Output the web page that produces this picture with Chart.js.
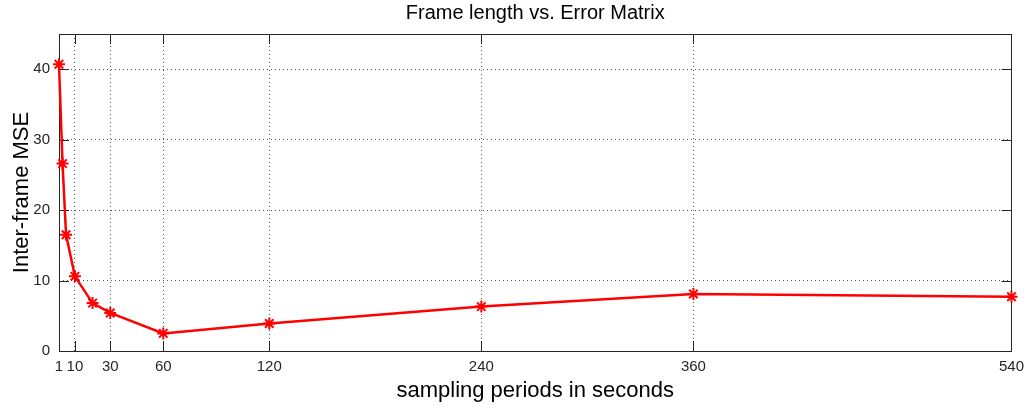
<!DOCTYPE html>
<html lang="en">
<head>
  <meta charset="UTF-8" />
  <title>Frame length vs. Error Matrix</title>
  <script src="https://cdn.jsdelivr.net/npm/chart.js"></script>
  <style>
    html, body {
      margin: 0;
      padding: 0;
      background: #fff;
    }
    canvas {
      display: block;
    }
  </style>
</head>
<body>
  <canvas id="mseChart" width="1031" height="408"></canvas>

  <script>
    // values
    const periods = [1, 3, 5, 10, 20, 30, 60, 120, 240, 360, 540];
    const mseValues = [40.7, 26.6, 16.5, 10.6, 6.8, 5.4, 2.5, 3.9, 6.3, 8.1, 7.7];
    const xTicks = [1, 10, 30, 60, 120, 240, 360, 540];
    const yTicks = [0, 10, 20, 30, 40];

    const font = "'Liberation Sans', Arial, sans-serif";

    // matlab style box with inward tick marks
    const boxPlugin = {
      id: 'matlabBox',
      beforeDatasetsDraw(chart) {
        const { ctx, chartArea: a, scales } = chart;
        const len = 10;
        ctx.save();
        ctx.strokeStyle = '#262626';
        ctx.lineWidth = 1;
        ctx.beginPath();
        xTicks.forEach(v => {
          const px = Math.round(scales.x.getPixelForValue(v)) + 0.5;
          ctx.moveTo(px, a.bottom); ctx.lineTo(px, a.bottom - len);
          ctx.moveTo(px, a.top); ctx.lineTo(px, a.top + len);
        });
        yTicks.forEach(v => {
          const py = Math.round(scales.y.getPixelForValue(v)) + 0.5;
          ctx.moveTo(a.left, py); ctx.lineTo(a.left + len, py);
          ctx.moveTo(a.right, py); ctx.lineTo(a.right - len, py);
        });
        ctx.stroke();
        ctx.strokeRect(Math.round(a.left) + 0.5, Math.round(a.top) + 0.5,
          Math.round(a.right - a.left), Math.round(a.bottom - a.top));
        ctx.restore();
      }
    };

    const ctx = document.getElementById('mseChart').getContext('2d');
    new Chart(ctx, {
      type: 'line',
      data: {
        datasets: [{
          data: periods.map((p, i) => ({ x: p, y: mseValues[i] })),
          borderColor: '#ff0000',
          backgroundColor: '#ff0000',
          borderWidth: 2.5,
          fill: false,
          tension: 0,
          pointStyle: 'star',
          pointRadius: 6,
          pointBorderWidth: 2,
          pointBorderColor: '#ff0000',
          pointHoverRadius: 6,
          clip: false
        }]
      },
      options: {
        responsive: false,
        animation: false,
        events: [],
        layout: { padding: { left: 0, right: 17, top: 0, bottom: 0 } },
        plugins: {
          legend: { display: false },
          tooltip: { enabled: false },
          title: {
            display: true,
            text: 'Frame length vs. Error Matrix',
            fullSize: false,
            color: '#000',
            font: { family: font, size: 20, weight: 'normal' },
            padding: { top: 1, bottom: 9 }
          }
        },
        scales: {
          x: {
            type: 'linear',
            min: 1,
            max: 540,
            afterBuildTicks: s => { s.ticks = xTicks.map(v => ({ value: v })); },
            afterFit: s => { s.height = 57; },
            grid: { color: '#555', drawTicks: false },
            border: { display: false, dash: [1, 3] },
            ticks: {
              autoSkip: false,
              maxRotation: 0,
              padding: 7,
              color: '#262626',
              font: { family: font, size: 15 }
            },
            title: {
              display: true,
              text: 'sampling periods in seconds',
              color: '#000',
              font: { family: font, size: 22 },
              padding: { top: 0, bottom: 4 }
            }
          },
          y: {
            min: 0,
            max: 45,
            afterBuildTicks: s => { s.ticks = yTicks.map(v => ({ value: v })); },
            afterFit: s => { s.width = 59; },
            grid: { color: '#555', drawTicks: false },
            border: { display: false, dash: [1, 3] },
            ticks: {
              padding: 9,
              color: '#262626',
              font: { family: font, size: 15 }
            },
            title: {
              display: true,
              text: 'Inter-frame MSE',
              color: '#000',
              font: { family: font, size: 22 },
              padding: { top: 9, bottom: 0 }
            }
          }
        }
      },
      plugins: [boxPlugin]
    });
  </script>
</body>
</html>
